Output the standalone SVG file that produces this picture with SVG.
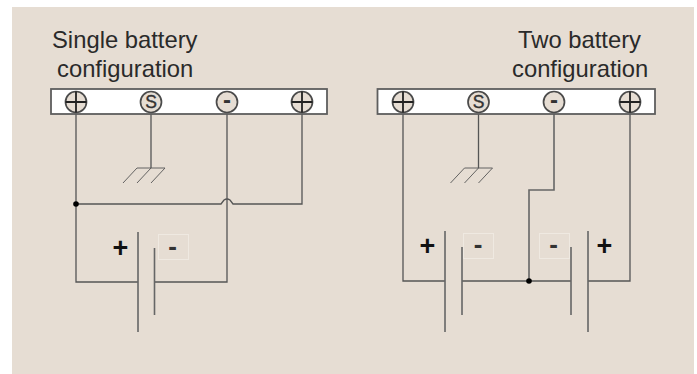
<svg xmlns="http://www.w3.org/2000/svg" width="697" height="374" viewBox="0 0 697 374">
<style>
text{font-family:"Liberation Sans",Arial,sans-serif}
.t{font-size:23.800px;fill:#2a2a2a}
.w{fill:none;stroke:#555;stroke-width:1.3}
.p{fill:none;stroke:#666;stroke-width:1.6}
.g{fill:none;stroke:#555;stroke-width:.9}
.bar{fill:#fff;stroke:#5e5e5e;stroke-width:1.8}
.c{fill:#e6ddd3;stroke:#4a4a4a;stroke-width:1.7}
.x{fill:none;stroke:#222;stroke-width:1.8}
.s{font-size:17.500px;fill:#333;stroke:#333;stroke-width:.4;text-anchor:middle}
.m{font-size:24px;font-weight:bold;fill:#333;text-anchor:middle}
.l{font-size:27px;font-weight:bold;fill:#111;text-anchor:middle}
.n{font-size:26px;font-weight:bold;fill:#333;text-anchor:middle}
.b{fill:none;stroke:#efe9e1;stroke-width:1}
</style>
<defs>
<g id="gnd"><path class="g" d="M-14 0H14M-14 0L-28 15M0 0L-14 15M14 0L0 15"/></g>
</defs>
<rect id="background" x="12" y="7" width="682" height="367" fill="#e6ddd3"/>
<g id="connectors">
<path class="w" d="M76 114V282H138"/>
<path class="w" d="M155 282H227V114"/>
<path class="w" d="M76 204H221L224 200Q227 198 230 200L233 204H302V114"/>
<path class="w" d="M151 114V168"/>
<path class="w" d="M403 114V281H445"/>
<path class="w" d="M462 281H571"/>
<path class="w" d="M588 281H630V114"/>
<path class="w" d="M529 281V190H554V114" style="stroke-width:1.600;stroke:#666"/>
<path class="w" d="M478.500 114V168"/>
<circle cx="76" cy="204" r="2.800" fill="#000"/>
<circle cx="529" cy="281" r="2.800" fill="#000"/>
</g>
<g id="title-single">
<text class="t" x="52" y="48">Single battery</text>
<text class="t" x="57" y="77">configuration</text>
</g>
<g id="title-two">
<text class="t" x="518" y="48">Two battery</text>
<text class="t" x="512" y="77">configuration</text>
</g>
<g id="bar-single">
<rect class="bar" x="51" y="89" width="276" height="25"/>
<circle class="c" cx="76" cy="102" r="10.500"/><path class="x" d="M65.500 102H86.500M76 91.500V112.500"/>
<circle class="c" cx="151" cy="102" r="10.500"/><text class="s" x="151" y="108">S</text>
<circle class="c" cx="227" cy="102" r="10.500"/><text class="m" x="227" y="107.500">-</text>
<circle class="c" cx="302" cy="102" r="10.500"/><path class="x" d="M291.500 102H312.500M302 91.500V112.500"/>
</g>
<g id="bar-two">
<rect class="bar" x="377.500" y="89" width="277.500" height="25"/>
<circle class="c" cx="403" cy="102" r="10.500"/><path class="x" d="M392.500 102H413.500M403 91.500V112.500"/>
<circle class="c" cx="478.500" cy="102" r="10.500"/><text class="s" x="478.500" y="108">S</text>
<circle class="c" cx="554" cy="102" r="10.500"/><text class="m" x="554" y="107.500">-</text>
<circle class="c" cx="630" cy="102" r="10.500"/><path class="x" d="M619.500 102H640.500M630 91.500V112.500"/>
</g>
<g id="ground-single"><use href="#gnd" x="151" y="168"/></g>
<g id="ground-two"><use href="#gnd" x="478.500" y="168"/></g>
<g id="battery-single">
<path class="p" d="M138 232V332M154.500 248V315"/>
<rect class="b" x="158.500" y="234.500" width="30" height="25"/>
<text class="l" x="120.500" y="257">+</text>
<text class="n" x="172.500" y="254.500">-</text>
</g>
<g id="battery-two-left">
<path class="p" d="M445 231V332M462 247V315"/>
<rect class="b" x="463.500" y="233.500" width="30" height="25"/>
<text class="l" x="427.500" y="255">+</text>
<text class="n" x="478" y="253">-</text>
</g>
<g id="battery-two-right">
<path class="p" d="M588 231V332M571 247V315"/>
<rect class="b" x="539.500" y="233.500" width="30" height="25"/>
<text class="l" x="604.500" y="255">+</text>
<text class="n" x="553.500" y="253">-</text>
</g>
</svg>
